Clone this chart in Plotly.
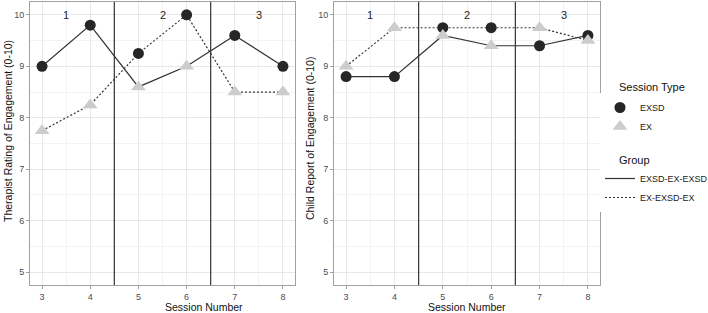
import plotly.graph_objects as go

sessions = [3, 4, 5, 6, 7, 8]
groups = ["EXSD-EX-EXSD", "EX-EXSD-EX"]
session_types = ["EXSD", "EX"]
type_by_group = {
    "EXSD-EX-EXSD": ["EXSD", "EXSD", "EX", "EX", "EXSD", "EXSD"],
    "EX-EXSD-EX": ["EX", "EX", "EXSD", "EXSD", "EX", "EX"],
}
therapist = {
    "EXSD-EX-EXSD": [9.0, 9.8, 8.6, 9.0, 9.6, 9.0],
    "EX-EXSD-EX": [7.75, 8.25, 9.25, 10.0, 8.5, 8.5],
}
child = {
    "EXSD-EX-EXSD": [8.8, 8.8, 9.6, 9.4, 9.4, 9.6],
    "EX-EXSD-EX": [9.0, 9.75, 9.75, 9.75, 9.75, 9.5],
}
phase_bounds = [4.5, 6.5]
phase_labels = ["1", "2", "3"]
phase_centers = [3.5, 5.5, 7.5]
y_titles = ["Therapist Rating of Engagement (0-10)", "Child Report of Engagement (0-10)"]
x_title = "Session Number"
legend_titles = ["Session Type", "Group"]

W, H = 708, 313
FONT = "Liberation Sans, Arial, sans-serif"
dash_of = {"EXSD-EX-EXSD": "solid", "EX-EXSD-EX": "2px,2px"}
marker_of = {
    "EXSD": dict(symbol="circle", color="#262626", size=11),
    "EX": dict(symbol="triangle-up", color="#cccccc", size=13),
}


def px_x(p):
    return p / W


def px_y(p):
    return 1 - p / H


fig = go.Figure()
panels = [("x", "y", therapist), ("x2", "y2", child)]
for xa, ya, data in panels:
    for g in groups:
        fig.add_trace(go.Scatter(x=sessions, y=data[g], mode="lines", xaxis=xa, yaxis=ya,
                                 line=dict(color="#333333", width=1.2, dash=dash_of[g]),
                                 showlegend=False, hoverinfo="skip"))
    for t in session_types:
        xs, ys = [], []
        for g in groups:
            for s, v, tt in zip(sessions, data[g], type_by_group[g]):
                if tt == t:
                    xs.append(s)
                    ys.append(v)
        fig.add_trace(go.Scatter(x=xs, y=ys, mode="markers", xaxis=xa, yaxis=ya,
                                 marker=dict(line=dict(width=0), **marker_of[t]),
                                 showlegend=False))

# legend-only entries
for t in session_types:
    fig.add_trace(go.Scatter(x=[None], y=[None], mode="markers", name=t,
                             marker=dict(line=dict(width=0), **marker_of[t]),
                             legendgroup="type"))
for g in groups:
    fig.add_trace(go.Scatter(x=[None], y=[None], mode="lines", name=g,
                             line=dict(color="#333333", width=1.2, dash=dash_of[g]),
                             legendgroup="group"))

ydom = [px_y(285), px_y(2)]
xdoms = [[px_x(30), px_x(295)], [px_x(334), px_x(600)]]
axcommon = dict(showline=True, mirror=True, linecolor="#a0a0a0", linewidth=1,
                showgrid=True, gridcolor="#e8e8e8", gridwidth=1,
                ticks="outside", ticklen=3, tickcolor="#a0a0a0",
                tickfont=dict(size=9, color="#4d4d4d", family=FONT),
                zeroline=False, automargin=False,
                minor=dict(showgrid=True, gridcolor="#f3f3f3", gridwidth=0.7, dtick=0.5))
ytitle_pos = [(8, 131), (310, 139)]
for i, (xa, ya, _) in enumerate(panels):
    xk = "xaxis" if i == 0 else "xaxis2"
    yk = "yaxis" if i == 0 else "yaxis2"
    fig.update_layout(**{
        xk: dict(domain=xdoms[i], range=[2.75, 8.25], anchor=ya, tickmode="array", tickvals=sessions,
                 **axcommon),
        yk: dict(domain=ydom, range=[4.75, 10.25], anchor=xa, dtick=1, **axcommon),
    })
    fig.add_annotation(x=sum(xdoms[i]) / 2, y=px_y(307), xref="paper", yref="paper",
                       text=x_title, showarrow=False, yanchor="middle",
                       font=dict(size=10.5, color="#111", family=FONT))
    fig.add_annotation(x=px_x(ytitle_pos[i][0]), y=px_y(ytitle_pos[i][1]), xref="paper", yref="paper",
                       text=y_titles[i], showarrow=False, textangle=-90,
                       xanchor="center", yanchor="middle",
                       font=dict(size=10.5, color="#111", family=FONT))
    for b in phase_bounds:
        fig.add_shape(type="line", xref=xa, yref=f"{ya} domain", x0=b, x1=b, y0=0, y1=1,
                      line=dict(color="#333333", width=1.2))
    for c, lab in zip(phase_centers, phase_labels):
        fig.add_annotation(x=c, y=10, xref=xa, yref=ya, text=lab, showarrow=False,
                           font=dict(size=11, color="#222", family=FONT))

for lt, py in zip(legend_titles, [87, 160]):
    fig.add_annotation(x=px_x(617), y=px_y(py), xref="paper", yref="paper", text=lt,
                       showarrow=False, xanchor="left", yanchor="middle",
                       font=dict(size=11, color="#111", family=FONT))

fig.update_layout(
    width=W, height=H,
    margin=dict(l=0, r=0, t=0, b=0, autoexpand=False),
    plot_bgcolor="white", paper_bgcolor="white",
    font=dict(family=FONT, color="#222"),
    legend=dict(x=px_x(600), xanchor="left", y=px_y(93), yanchor="top",
                traceorder="grouped", tracegroupgap=33,
                font=dict(size=9, color="#222", family=FONT), itemwidth=30),
)
fig.write_html("out.html", config={"displayModeBar": False},
               post_script="document.body.style.margin='0px';")
